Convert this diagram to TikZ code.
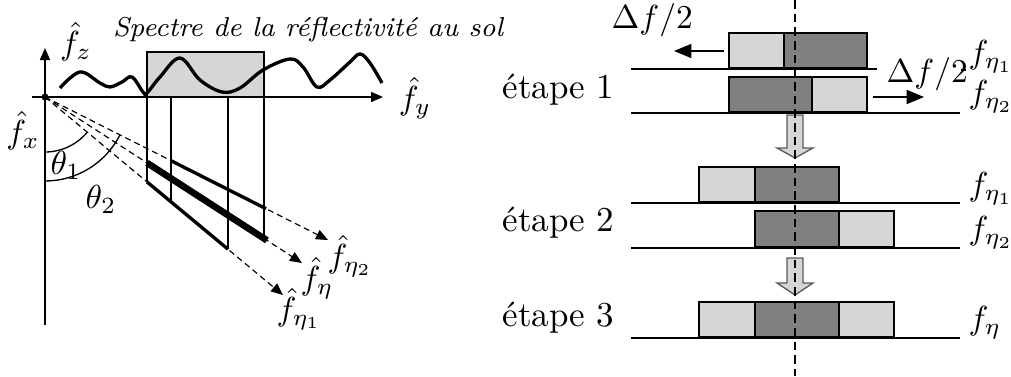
\documentclass[tikz,border=0pt]{standalone}
\usetikzlibrary{arrows.meta,calc}
\definecolor{lgray}{HTML}{D6D6D6}
\definecolor{dgray}{HTML}{808080}
\begin{document}
\begin{tikzpicture}[x=0.3pt,y=-0.3pt,
  lbl/.style={inner sep=0pt, font=\fontsize{10}{12}\selectfont},
  etape/.style={inner sep=0pt, anchor=base west, font=\fontsize{10.5}{12}\selectfont},
  axis/.style={line width=0.5pt, -{Triangle[length=3.6pt,width=3pt]}},
  ray/.style={dash pattern=on 1.8pt off 1.2pt, line width=0.35pt, -{Triangle[length=3.6pt,width=3pt]}},
  thinline/.style={line width=0.4pt},
  medbar/.style={line width=1pt},
  bigbar/.style={line width=2pt},
  lightbox/.style={draw, fill=lgray, line width=0.45pt},
  darkbox/.style={draw, fill=dgray, line width=0.45pt},
  baseln/.style={line width=0.55pt},
  shiftarrow/.style={line width=0.45pt, -{Triangle[length=5.2pt,width=4.2pt]}},
  blockarrow/.style={fill=lgray, draw=black!65, line width=0.4pt},
  vdash/.style={line width=0.45pt, dash pattern=on 2.6pt off 1.5pt}]
\useasboundingbox (0,0) rectangle (1011,376);

% ---------------- left panel ----------------
\coordinate (O) at (45,97);
\coordinate (T2) at (328,240);
\coordinate (T) at (302,263);
\coordinate (T1) at (283,295);

% spectrum band
\fill[lgray] (147,52) rectangle (264,97);
\draw[thinline] (147,97) -- (147,52) -- (264,52) -- (264,97);
\draw[line width=1pt] plot[smooth, tension=0.6] coordinates {(60,88) (80,72) (100,83) (110,87) (122,82) (132,77) (143,92) (147,93) (160,77) (180,58) (200,80) (222,92) (240,88) (263,70) (290,59) (303,67) (317,87) (330,80) (350,62) (360,54) (370,63) (382,83)};

% axes
\draw[axis] (32,97) -- (383,97);
\draw[line width=0.8pt] (147,97) -- (264,97);
\draw[axis] (45,325) -- (45,48);
\fill (O) circle[radius=3.5];

% rays
\draw[ray] (O) -- (T2);
\draw[ray] (O) -- (T);
\draw[ray] (O) -- (T1);

% projection lines
\draw[thinline] (147,97) -- (147,181.9);
\draw[thinline] (171,97) -- (171,201.8);
\draw[thinline] (228,97) -- (228,249.2);
\draw[thinline] (264,97) -- (264,241);

% bars
\draw[medbar] (171,160.7) -- (266,208.7);
\draw[bigbar] (147,162.9) -- (267,240.4);
\draw[medbar] (147,181.9) -- (228,249.2);

% angles
\draw[thinline] (45,152) arc[start angle=90, end angle=39.8, radius=55];
\draw[thinline] (45,181) arc[start angle=90, end angle=26.8, radius=84];

% labels
\node[lbl, anchor=base, font=\fontsize{8.2}{10}\selectfont\itshape] (title) at (308,36) {Spectre de la réflectivité au sol};
\node[lbl] (fz) at (76,42) {$\hat f_z$};
\node[lbl] (fy) at (415,98) {$\hat f_y$};
\node[lbl] (fx) at (23,131) {$\hat f_x$};
\node[lbl] (th1) at (66,165) {$\theta_1$};
\node[lbl] (th2) at (101,199) {$\theta_2$};
\node[lbl] (feta2) at (350,256) {$\hat f_{\eta_2}$};
\node[lbl] (feta) at (317,278) {$\hat f_{\eta}$};
\node[lbl] (feta1) at (299,309) {$\hat f_{\eta_1}$};

% ---------------- right panel ----------------
% row 1 (etape 1, f_eta1)
\draw[lightbox] (729,33) rectangle (784,68);
\draw[darkbox] (784,33) rectangle (867,68);
\draw[baseln] (631,69) -- (877,69);
% row 2 (etape 1, f_eta2)
\draw[darkbox] (729,77) rectangle (812,112);
\draw[lightbox] (812,77) rectangle (867,112);
\draw[baseln] (631,113) -- (960,113);
% row 3 (etape 2, f_eta1)
\draw[lightbox] (699,167) rectangle (755,202);
\draw[darkbox] (755,167) rectangle (839,202);
\draw[baseln] (631,203) -- (960,203);
% row 4 (etape 2, f_eta2)
\draw[darkbox] (755,211) rectangle (839,247);
\draw[lightbox] (839,211) rectangle (894,247);
\draw[baseln] (631,248) -- (960,248);
% row 5 (etape 3, f_eta)
\draw[lightbox] (699,302) rectangle (755,337);
\draw[darkbox] (755,302) rectangle (839,337);
\draw[lightbox] (839,302) rectangle (894,337);
\draw[baseln] (631,338) -- (960,338);

% block arrows
\draw[blockarrow] (787,115) -- (803,115) -- (803,148) -- (813,148) -- (795,158) -- (777,148) -- (787,148) -- cycle;
\draw[blockarrow] (787,258) -- (803,258) -- (803,283) -- (813,283) -- (795,295) -- (777,283) -- (787,283) -- cycle;

% central dashed line
\draw[vdash] (795,0) -- (795,376);

% shift arrows and labels
\node[lbl, anchor=base west] (df1) at (611,28) {$\Delta f/2$};
\coordinate (a1s) at (724,51);
\coordinate (a1e) at (674,51);
\draw[shiftarrow] (a1s) -- (a1e);
\node[lbl, anchor=base west] (df2) at (886,82) {$\Delta f/2$};
\coordinate (dashs) at (961,70);
\coordinate (dashe) at (966,70);
\draw[line width=0.4pt] (dashs) -- (dashe);
\coordinate (a2s) at (873,97);
\coordinate (a2e) at (924,97);
\draw[shiftarrow] (a2s) -- (a2e);

% f labels
\node[lbl, anchor=west] (r1) at (968,57) {$f_{\eta_1}$};
\node[lbl, anchor=west] (r2) at (968,97) {$f_{\eta_2}$};
\node[lbl, anchor=west] (r3) at (968,189) {$f_{\eta_1}$};
\node[lbl, anchor=west] (r4) at (968,233) {$f_{\eta_2}$};
\node[lbl, anchor=west] (r5) at (968,323) {$f_{\eta}$};

% etape labels
\node[etape] (e1) at (502,98) {étape 1};
\node[etape] (e2) at (502,231) {étape 2};
\node[etape] (e3) at (502,326) {étape 3};
\end{tikzpicture}
\end{document}
